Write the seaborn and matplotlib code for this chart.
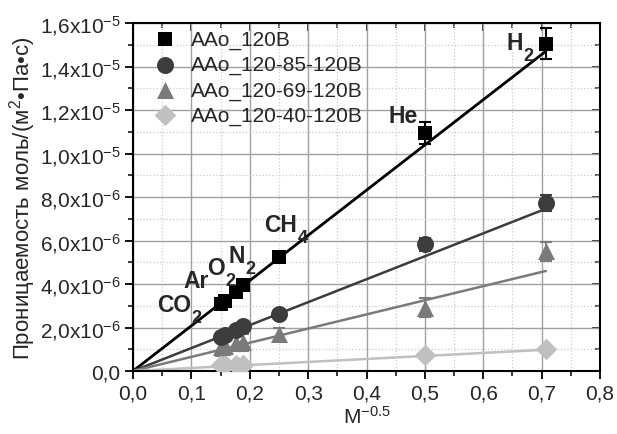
import numpy as np
import pandas as pd
import matplotlib
matplotlib.use("Agg")
import matplotlib.pyplot as plt
from matplotlib.ticker import MultipleLocator
import seaborn as sns

# ---------- данные ----------
gases = ["CO2", "Ar", "O2", "N2", "CH4", "He", "H2"]
x_m = [0.1508, 0.1581, 0.1768, 0.1890, 0.2500, 0.5000, 0.7071]

series = ["AAo_120B", "AAo_120-85-120B", "AAo_120-69-120B", "AAo_120-40-120B"]
y_120 = [3.07e-6, 3.2e-6, 3.62e-6, 3.95e-6, 5.22e-6, 1.095e-5, 1.505e-5]
y_85 = [1.58e-6, 1.65e-6, 1.9e-6, 2.05e-6, 2.62e-6, 5.82e-6, 7.72e-6]
y_69 = [1.1e-6, 1.15e-6, 1.3e-6, 1.32e-6, 1.7e-6, 2.92e-6, 5.5e-6]
y_40 = [0.28e-6, 0.28e-6, 0.28e-6, 0.28e-6, np.nan, 0.75e-6, 1.0e-6]
err_120 = [0.1e-6, 0.1e-6, 0.1e-6, 0.1e-6, 0.1e-6, 0.5e-6, 0.72e-6]
err_85 = [0.15e-6, 0.15e-6, 0.15e-6, 0.15e-6, 0.15e-6, 0.3e-6, 0.35e-6]
err_69 = [0.4e-6, 0.4e-6, 0.4e-6, 0.4e-6, 0.3e-6, 0.45e-6, 0.45e-6]
err_40 = [0.1e-6, 0.1e-6, 0.1e-6, 0.1e-6, np.nan, 0.1e-6, 0.1e-6]

# линейная аппроксимация через ноль: значение на x = 0.7071
fit_x = [0.0, 0.7071]
fit_end = [1.47e-5, 7.46e-6, 4.6e-6, 0.98e-6]

# подписи газов: (основной текст, индекс)
labels_main = ["CO", "Ar", "O", "N", "CH", "He", "H"]
labels_sub = ["2", "", "2", "2", "4", "", "2"]
labels_pos = [(0.041, 2.76e-6), (0.087, 3.87e-6), (0.127, 4.47e-6), (0.163, 5.02e-6),
              (0.224, 6.45e-6), (0.437, 1.143e-5), (0.639, 1.479e-5)]

yticks = [0, 2e-6, 4e-6, 6e-6, 8e-6, 1e-5, 1.2e-5, 1.4e-5, 1.6e-5]
yticklabels = ["0,0", "2,0x10$^{-6}$", "4,0x10$^{-6}$", "6,0x10$^{-6}$", "8,0x10$^{-6}$",
               "1,0x10$^{-5}$", "1,2x10$^{-5}$", "1,4x10$^{-5}$", "1,6x10$^{-5}$"]
xticks = [0, 0.1, 0.2, 0.3, 0.4, 0.5, 0.6, 0.7, 0.8]
xticklabels = ["0,0", "0,1", "0,2", "0,3", "0,4", "0,5", "0,6", "0,7", "0,8"]

colors = {"AAo_120B": "#000000", "AAo_120-85-120B": "#3c3c3c",
          "AAo_120-69-120B": "#7a7a7a", "AAo_120-40-120B": "#c0c0c0"}
markers = {"AAo_120B": "s", "AAo_120-85-120B": "o",
           "AAo_120-69-120B": "^", "AAo_120-40-120B": "D"}
msizes = {"AAo_120B": 110, "AAo_120-85-120B": 150,
          "AAo_120-69-120B": 150, "AAo_120-40-120B": 120}

ys = [y_120, y_85, y_69, y_40]
errs = [err_120, err_85, err_69, err_40]

df = pd.concat([pd.DataFrame({"x": x_m, "y": y, "err": e, "series": s})
                for s, y, e in zip(series, ys, errs)], ignore_index=True)
fit = pd.concat([pd.DataFrame({"x": fit_x, "y": [0.0, v], "series": s})
                 for s, v in zip(series, fit_end)], ignore_index=True)

sns.set_theme(style="white")
plt.rcParams["font.family"] = ["Liberation Sans", "DejaVu Sans"]
plt.rcParams["mathtext.fontset"] = "custom"
plt.rcParams["mathtext.rm"] = "Liberation Sans"
plt.rcParams["mathtext.it"] = "Liberation Sans:italic"
plt.rcParams["mathtext.bf"] = "Liberation Sans:bold"
plt.rcParams["mathtext.default"] = "regular"

fig = plt.figure(figsize=(6.17, 4.35), dpi=100)
ax = fig.add_axes([0.2156, 0.1448, 0.7569, 0.8])

ax.set_axisbelow(True)
ax.grid(True, which="major", color="#a0a0a0", lw=1.0, ls="-")
ax.grid(True, which="minor", color="#cccccc", lw=0.9, ls=":")

# линии аппроксимации
for s in series:
    sub = fit[fit.series == s]
    sns.lineplot(data=sub, x="x", y="y", color=colors[s], lw=2.0 if s == series[0] else 1.8,
                 ax=ax, legend=False, zorder=2)

# погрешности
for s in series:
    sub = df[df.series == s].dropna()
    ax.errorbar(sub.x, sub.y, yerr=sub.err, fmt="none", ecolor=colors[s],
                elinewidth=1.5, capsize=4, capthick=1.5, zorder=3)

# точки
for s in series[::-1]:
    sub = df[df.series == s].dropna()
    sns.scatterplot(data=sub, x="x", y="y", color=colors[s], marker=markers[s],
                    s=msizes[s], edgecolor=colors[s], linewidth=0, ax=ax,
                    label=s, zorder=4)

ax.set_xlim(0, 0.8)
ax.set_ylim(0, 1.6e-5)

# подписи газов с крупным индексом
renderer = fig.canvas.get_renderer()
for t, sb, (px, py) in zip(labels_main, labels_sub, labels_pos):
    txt = ax.text(px, py, t, fontsize=16.5, fontweight="bold", ha="left", va="baseline", zorder=5)
    if sb:
        w = txt.get_window_extent(renderer).width * 72 / fig.dpi
        ax.annotate(sb, xy=(px, py), xytext=(w + 0.5, -8), textcoords="offset points",
                    fontsize=13, fontweight="bold", ha="left", va="baseline", zorder=5)

ax.set_xticks(xticks)
ax.set_xticklabels(xticklabels, fontsize=15)
ax.set_yticks(yticks)
ax.set_yticklabels(yticklabels, fontsize=15)
ax.xaxis.set_minor_locator(MultipleLocator(0.05))
ax.yaxis.set_minor_locator(MultipleLocator(1e-6))
ax.tick_params(which="major", direction="out", length=6, width=1.3, color="black",
               bottom=True, left=True, pad=3)
ax.tick_params(which="minor", direction="out", length=3.5, width=1.1, color="black",
               bottom=True, left=True)
for sp in ax.spines.values():
    sp.set_color("black")
    sp.set_linewidth(1.5)

# верхние/правые засечки внутрь
axt = ax.secondary_xaxis("top")
axt.set_xticks(xticks)
axt.set_xticklabels([])
axt.xaxis.set_minor_locator(MultipleLocator(0.05))
axt.tick_params(which="major", direction="in", length=6, width=1.3)
axt.tick_params(which="minor", direction="in", length=3.5, width=1.1)
axr = ax.secondary_yaxis("right")
axr.set_yticks(yticks)
axr.set_yticklabels([])
axr.yaxis.set_minor_locator(MultipleLocator(1e-6))
axr.tick_params(which="major", direction="in", length=6, width=1.3)
axr.tick_params(which="minor", direction="in", length=3.5, width=1.1)

ax.set_xlabel("M$^{-0.5}$", fontsize=15, labelpad=2)
ax.set_ylabel("Проницаемость моль/(м$^2$•Па•с)", fontsize=16, labelpad=1)

h, l = ax.get_legend_handles_labels()
order = [l.index(s) for s in series]
ax.legend([h[i] for i in order], [l[i] for i in order], loc="upper left",
          bbox_to_anchor=(0.005, 1.022), frameon=False, fontsize=15,
          handletextpad=0.55, labelspacing=0.29, borderpad=0.2, handlelength=1.4)

fig.savefig("out.png", dpi=100)
